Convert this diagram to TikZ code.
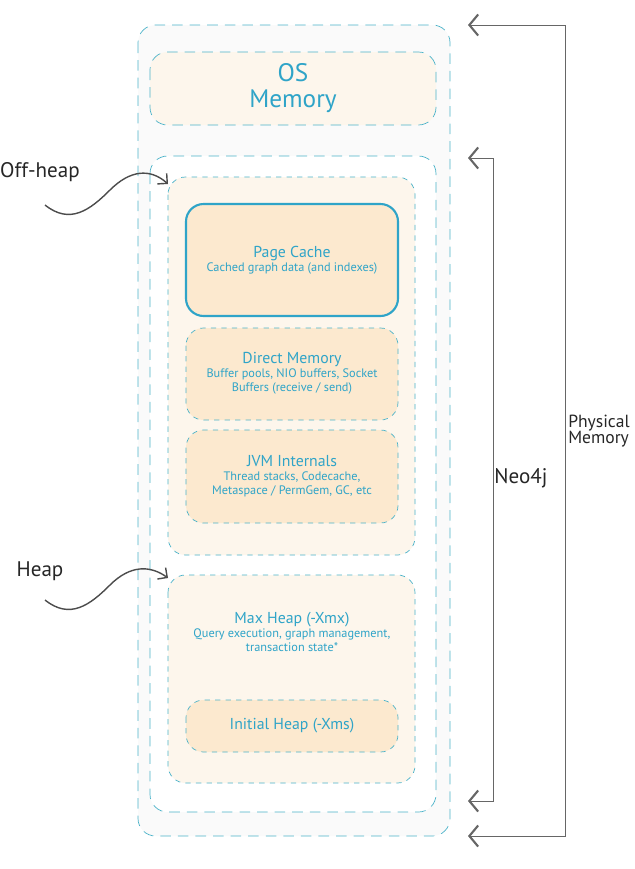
\documentclass[tikz,border=0pt]{standalone}
\usepackage{fontspec}
\setmainfont{PT Sans}
\usepackage{xcolor}
\usetikzlibrary{arrows.meta}
\definecolor{memblue}{HTML}{2FA4C8}
\definecolor{memdash}{HTML}{4BB3C9}
\definecolor{palecream}{HTML}{FDF6EC}
\definecolor{cream}{HTML}{FCE9CF}
\tikzset{
    mem-area/.style = {draw=memdash, dash pattern=on 6pt off 4pt, rounded corners=10pt, thin},
    mem-box/.style = {draw=memdash, dashed, rounded corners=10pt, thin, fill=cream},
    mem-text/.style = {text=memblue, align=center, font=\scriptsize},
    side-label/.style = {font=\large, text=black!85},
    bracket/.style = {draw=black!60, thin, {Straight Barb[length=5pt,width=12pt,line width=1.2pt]}-{Straight Barb[length=5pt,width=12pt,line width=1.2pt]}},
    hand-arrow/.style = {draw=black!70, thick, -{Straight Barb[length=4pt]}},
}
\begin{document}
\begin{tikzpicture}[x=0.02cm, y=-0.02cm]
\useasboundingbox (0,0) rectangle (635,869);
% memory areas
\draw[mem-area, fill=black!2] (138,25) rectangle (450,836);
\draw[mem-area, fill=palecream] (150,52) rectangle (436,125);
\node[mem-text, font=\Large] (os) at (293,88) {OS\\[-3pt]Memory};
\draw[mem-area, fill=white] (150,156) rectangle (436,812);
\draw[mem-area, dashed, fill=palecream] (168,177) rectangle (415,555);
\draw[mem-area, dashed, fill=palecream] (168,575) rectangle (415,783);
% boxes
\draw[draw=memblue, line width=1.2pt, rounded corners=10pt, fill=cream] (186,204) rectangle (398,316);
\node[mem-text] (cache) at (292,260) {\small Page Cache\\Cached graph data (and indexes)};
\draw[mem-box] (186,328) rectangle (398,420);
\node[mem-text] (direct) at (292,373) {\small Direct Memory\\Buffer pools, NIO buffers, Socket\\Buffers (receive / send)};
\draw[mem-box] (186,430) rectangle (398,523);
\node[mem-text] (jvm) at (292,476) {\small JVM Internals\\Thread stacks, Codecache,\\Metaspace / PermGem, GC, etc};
\node[mem-text] (maxheap) at (292,632) {\small Max Heap (-Xmx)\\Query execution, graph management,\\transaction state*};
\draw[mem-box] (186,700) rectangle (398,752);
\node[mem-text] (initheap) at (292,726) {\small Initial Heap (-Xms)};
% brackets
\coordinate (neo-top) at (468,158);
\coordinate (neo-bot) at (468,801);
\coordinate (phys-top) at (468,25);
\coordinate (phys-bot) at (468,836);
\draw[bracket] (neo-top) -- (493,158) -- (493,801) -- (neo-bot);
\draw[bracket] (phys-top) -- (565,25) -- (565,836) -- (phys-bot);
\node[side-label] (neo4j) at (521,478) {Neo4j};
\node[side-label, font=\normalsize, align=left] (physical) at (599,431) {Physical\\[-3pt]Memory};
% pointers
\node[side-label] (offheap) at (40,172) {Off-heap};
\coordinate (offheap-to) at (168,184);
\draw[hand-arrow] (45,205) .. controls (70,225) and (90,210) .. (110,190)
    .. controls (130,170) and (150,168) .. (offheap-to);
\node[side-label] (heap) at (40,571) {Heap};
\coordinate (heap-to) at (168,578);
\draw[hand-arrow] (45,600) .. controls (70,620) and (90,605) .. (110,585)
    .. controls (130,565) and (150,565) .. (heap-to);
\end{tikzpicture}
\end{document}
